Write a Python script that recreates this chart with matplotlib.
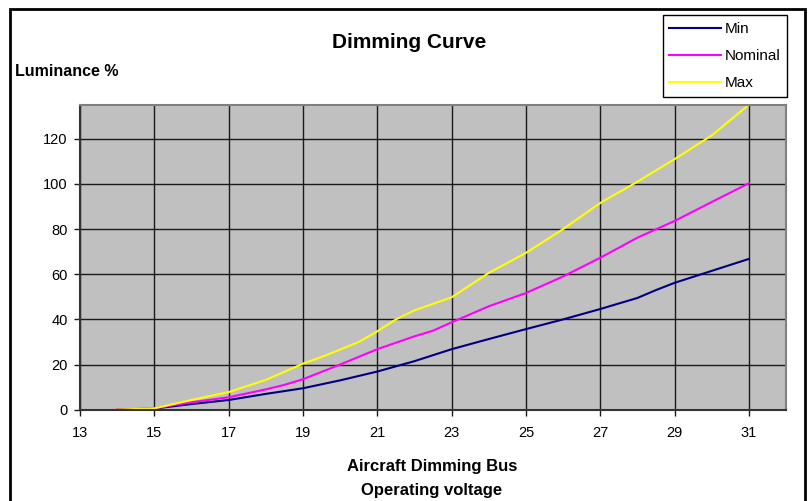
import matplotlib
matplotlib.use("Agg")
import matplotlib.pyplot as plt
from matplotlib.patches import Rectangle

plt.rcParams['font.family'] = ['Liberation Sans', 'DejaVu Sans']

# series
min_x = [14, 15, 16, 17, 18, 19, 20, 21, 22, 23, 24, 25, 26, 27, 28, 28.5, 29, 30, 31]
min_y = [0, 0.5, 2.5, 4.3, 7, 9.5, 13, 16.9, 21.5, 26.8, 31.3, 35.7, 40, 44.6, 49.5, 53, 56.2, 61.5, 66.8]

nom_x = [14, 15, 16, 17, 18, 18.5, 19, 20, 21, 22, 22.5, 23, 24, 25, 26, 27, 28, 29, 30, 31]
nom_y = [0, 0.6, 3.3, 5.5, 9, 11, 13.5, 20, 26.8, 32.5, 35, 38.7, 45.8, 51.7, 59, 67.3, 76.2, 83.6, 92, 100.3]

max_x = [14, 15, 16, 17, 18, 19, 19.6, 20.5, 21, 21.5, 22, 23, 24, 25, 26, 27, 28, 29, 30, 31]
max_y = [0, 0.6, 4.3, 7.8, 13.2, 20.4, 24, 30, 34.7, 40, 44, 49.8, 60.6, 69.5, 80, 91.6, 101, 111, 121.5, 135.1]

x_ticks = [13, 15, 17, 19, 21, 23, 25, 27, 29, 31]
y_ticks = [0, 20, 40, 60, 80, 100, 120]

W, H = 809, 501
fig = plt.figure(figsize=(W / 100, H / 100), dpi=100)
ax = fig.add_axes([80 / W, 1 - 409.7 / H, 706 / W, (409.7 - 105) / H])
ax.set_facecolor('#c0c0c0')

ax.plot(min_x, min_y, color='#000080', lw=1.5, label='Min')
ax.plot(nom_x, nom_y, color='#ff00ff', lw=1.5, label='Nominal')
ax.plot(max_x, max_y, color='#ffff00', lw=1.5, label='Max')

ax.set_xlim(13, 32)
ax.set_ylim(0, 135)
ax.set_xticks(x_ticks)
ax.set_yticks(y_ticks)
ax.grid(True, color='#1a1a1a', lw=1)
ax.set_axisbelow(True)
ax.tick_params(direction='out', length=4, width=1, color='#1a1a1a', labelsize=10.5)
ax.tick_params(axis='x', pad=8)
ax.tick_params(axis='y', pad=5)

for s in ['top', 'right']:
    ax.spines[s].set_color('#808080')
    ax.spines[s].set_linewidth(1.5)
for s in ['bottom', 'left']:
    ax.spines[s].set_color('#333333')
    ax.spines[s].set_linewidth(1.5)

fig.text(409 / W, 1 - 42 / H, 'Dimming Curve', ha='center', va='center',
         fontsize=15, fontweight='bold')
fig.text(15 / W, 1 - 72 / H, 'Luminance %', ha='left', va='center',
         fontsize=11.5, fontweight='bold')
fig.text(432 / W, 1 - 467 / H, 'Aircraft Dimming Bus', ha='center', va='center',
         fontsize=12, fontweight='bold')
fig.text(432 / W, 1 - 490 / H, 'Operating voltage', ha='center', va='center',
         fontsize=12, fontweight='bold')

leg = fig.legend(loc='upper right', bbox_to_anchor=(787 / W, 1 - 15 / H),
                 fancybox=False, edgecolor='black', framealpha=1,
                 fontsize=11, handlelength=3.4, labelspacing=0.85,
                 handletextpad=0.2, borderpad=0.45, borderaxespad=0)
leg.get_frame().set_linewidth(1)

# outer chart border
fig.patches.append(Rectangle((10 / W, -0.05), 795 / W, 1.05 - 9 / H,
                             transform=fig.transFigure, fill=False,
                             edgecolor='black', lw=2))

fig.savefig('out.png', dpi=100)
